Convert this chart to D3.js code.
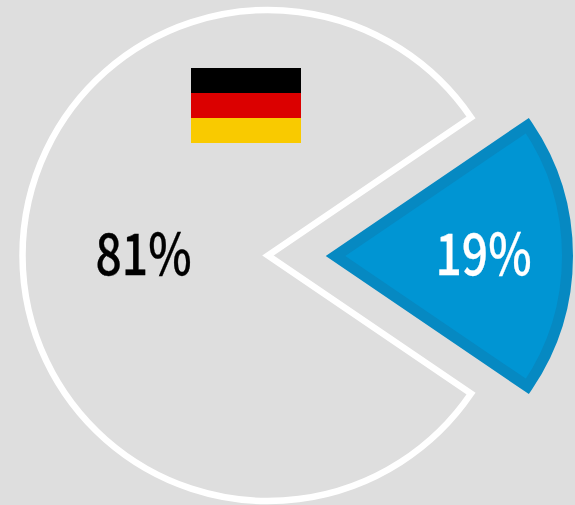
<!DOCTYPE html>
<html>
<head>
<meta charset="utf-8">
<script src="https://cdnjs.cloudflare.com/ajax/libs/d3/7.8.5/d3.min.js"></script>
<style>
  html, body { margin: 0; padding: 0; background: #dedede; }
  svg { display: block; }
  text { font-family: "Noto Sans CJK JP", "Noto Sans", sans-serif; font-weight: 500; }
</style>
</head>
<body>
<svg id="chart" width="575" height="505"></svg>
<script>
const labels = ["81%", "19%"];
const values = [81, 19];
const flagBands = ["black", "red", "gold"];
const flagColors = ["#000000", "#db0000", "#f9ca00"];

const svg = d3.select("#chart");

const center = { x: 268, y: 255.5 };
const radius = 245.5;
const explode = 67.5;
const smallRadius = 232;

// the 19% slice points right, so start the pie just below it
const pie = d3.pie()
    .sort(null)
    .startAngle(Math.PI / 2 + 0.19 * Math.PI)
    .endAngle(Math.PI / 2 + 0.19 * Math.PI + 2 * Math.PI);
const slices = pie(values);

const bigArc = d3.arc().innerRadius(0).outerRadius(radius);
const smallArc = d3.arc().innerRadius(0).outerRadius(smallRadius);

svg.append("path")
    .attr("transform", `translate(${center.x}, ${center.y})`)
    .attr("d", bigArc(slices[0]))
    .attr("fill", "none")
    .attr("stroke", "white")
    .attr("stroke-width", 6.5)
    .attr("stroke-miterlimit", 10);

svg.append("path")
    .attr("transform", `translate(${center.x + explode}, ${center.y + 0.5})`)
    .attr("d", smallArc(slices[1]))
    .attr("fill", "#0095d3")
    .attr("stroke", "#0689c2")
    .attr("stroke-width", 11)
    .attr("stroke-miterlimit", 10);

// ---- LABELS ---- //

// the original face is narrower than anything installed, so squeeze it
function label(text, x, color) {
    svg.append("text")
        .attr("transform", `translate(${x}, 275) scale(0.81, 1)`)
        .attr("text-anchor", "middle")
        .attr("font-size", 57)
        .attr("fill", color)
        .attr("stroke", color)
        .attr("stroke-width", 0.3)
        .text(text);
}

label(labels[0], 143.5, "black");
label(labels[1], 483.5, "white");

// ---- FLAG ---- //

const flagY = d3.scaleBand()
    .domain(flagBands)
    .range([68, 143]);

svg.selectAll(".flag")
    .data(flagBands)
    .enter()
    .append("rect")
        .attr("class", "flag")
        .attr("x", 191)
        .attr("y", d => flagY(d))
        .attr("width", 110)
        .attr("height", flagY.bandwidth())
        .attr("fill", (d, i) => flagColors[i]);
</script>
</body>
</html>
